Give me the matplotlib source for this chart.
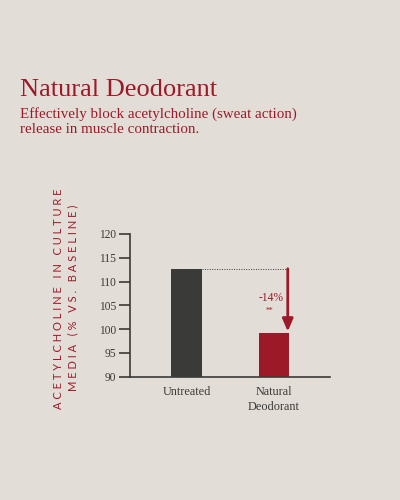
import matplotlib
matplotlib.use("Agg")
import matplotlib.pyplot as plt

# data
groups = ["Untreated", "Natural\nDeodorant"]
values = [112.7, 99.1]
y_ticks = [90, 95, 100, 105, 110, 115, 120]
change_label = "-14%"
signif = "**"

BG = "#e3ddd8"
RED = "#9c1a28"
DARK = "#3a3a38"

SERIF = ["Liberation Serif", "DejaVu Serif"]
SANS = ["Lato", "DejaVu Sans"]


def spaced(s):
    """Crude letter spacing for the axis label."""
    return " ".join(s)


def px(y):
    """Figure fraction from a pixel row counted from the top."""
    return 1 - y / 500


fig = plt.figure(figsize=(4, 5), dpi=100, facecolor=BG)

fig.text(0.05, px(96), "Natural Deodorant", family=SERIF, fontsize=19,
         color=RED, ha="left", va="baseline")
fig.text(0.05, px(118.3), "Effectively block acetylcholine (sweat action)",
         family=SERIF, fontsize=10.8, color=RED, ha="left", va="baseline")
fig.text(0.05, px(132.7), "release in muscle contraction.",
         family=SERIF, fontsize=10.8, color=RED, ha="left", va="baseline")

ax = fig.add_axes([0.325, 0.2466, 0.5, 0.2854])
ax.set_facecolor(BG)

x = list(range(len(groups)))
bars = ax.bar(x, values, width=0.354, color=[DARK, RED], zorder=2)

ax.set_ylim(90, 120)
ax.set_xlim(-0.646, 1.64)
ax.set_yticks(y_ticks)
ax.set_yticklabels([str(t) for t in y_ticks], family=SERIF, fontsize=8.3, color=DARK)
ax.set_xticks(x)
ax.set_xticklabels(groups, family=SERIF, fontsize=8.8, color=DARK, linespacing=1.25)

for side in ["top", "right"]:
    ax.spines[side].set_visible(False)
for side in ["left", "bottom"]:
    ax.spines[side].set_color(DARK)
    ax.spines[side].set_linewidth(1.2)
ax.tick_params(axis="y", length=8, width=1.2, color=DARK, pad=2)
ax.tick_params(axis="x", length=0, pad=7)

# dotted reference line and arrow for the reduction
arrow_x = 1.157
bar_right = x[0] + 0.354 / 2
ax.plot([bar_right, arrow_x], [values[0], values[0]], color=DARK,
        linestyle=(0, (1, 1.5)), linewidth=0.7, zorder=1)
ax.annotate("", xy=(arrow_x, values[1] + 0.4), xytext=(arrow_x, values[0]),
            arrowprops=dict(arrowstyle="-|>,head_length=0.75,head_width=0.32",
                            color=RED, linewidth=2.0, shrinkA=0, shrinkB=0))
ax.text(0.97, 106.6, change_label, family=SERIF, fontsize=8.3, color=RED,
        ha="center", va="center")
ax.text(0.95, 104.6, signif, family=SERIF, fontsize=5.5, color=RED,
        ha="center", va="top")

fig.text(0.147, px(298.5), spaced("ACETYLCHOLINE IN CULTURE"), family=SANS,
         fontsize=8.0, color=RED, rotation=90, ha="center", va="center")
fig.text(0.181, px(297.5), spaced("MEDIA (% VS. BASELINE)"), family=SANS,
         fontsize=8.0, color=RED, rotation=90, ha="center", va="center")

fig.savefig("out.png", dpi=100, facecolor=BG)
